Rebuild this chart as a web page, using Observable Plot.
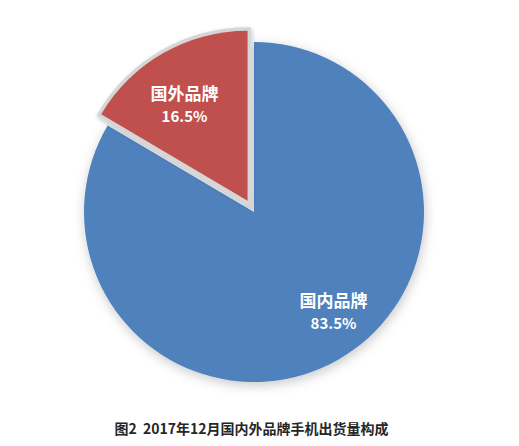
<!DOCTYPE html>
<html>
<head>
<meta charset="utf-8">
<script src="https://cdn.jsdelivr.net/npm/d3@7"></script>
<script src="https://cdn.jsdelivr.net/npm/@observablehq/plot@0.6"></script>
<style>
  html, body { margin: 0; padding: 0; background: #fff; }
  #wrap { width: 519px; }
  #caption {
    width: 519px; height: 36px; line-height: 36px; box-sizing: border-box;
    padding-right: 16px; text-align: center;
    font-family: "Noto Sans CJK SC", sans-serif; font-weight: bold;
    font-size: 14px; color: #262626;
  }
</style>
</head>
<body>
<div id="wrap"></div>
<script>
// ---- data ----
const categories = ["国内品牌", "国外品牌"];
const shares = [83.5, 16.5];
const shareLabels = ["83.5%", "16.5%"];
const sliceColors = ["#4F81BD", "#C0504D"];
const captionText = "图2\u00a0\u00a02017年12月国内外品牌手机出货量构成";

// ---- layout constants (not data) ----
const W = 519, H = 410;
const CX = 254, CY = 212, R = 170;          // pixel centre & radius
const explodeDist = 13 / R;                 // in radius units
const explodeIdx = 1;
const labelLayout = [ {da: -8.6, r: 0.75}, {da: -3.9, r: 0.675} ];

const table = categories.map((c, i) => ({category: c, share: shares[i], label: shareLabels[i], color: sliceColors[i]}));
const arcs = d3.pie().sort(null).value(d => d.share)(table);

// offsets of each slice (units)
arcs.forEach((a, i) => {
  const mid = (a.startAngle + a.endAngle) / 2;
  const e = i === explodeIdx ? explodeDist : 0;
  a.ox = Math.sin(mid) * e;
  a.oy = Math.cos(mid) * e;
  const la = mid + labelLayout[i].da * Math.PI / 180;
  a.lx = a.ox + Math.sin(la) * labelLayout[i].r;
  a.ly = a.oy + Math.cos(la) * labelLayout[i].r;
});

function pieMark(index, scales, values, dims, context) {
  const doc = context.document;
  const ns = "http://www.w3.org/2000/svg";
  const g = doc.createElementNS(ns, "g");
  const defs = doc.createElementNS(ns, "defs");
  defs.innerHTML = `<filter id="sh" x="-20%" y="-20%" width="140%" height="140%">
      <feDropShadow dx="1" dy="3" stdDeviation="6" flood-color="#000" flood-opacity="0.22"/></filter>
    <filter id="sh2" x="-20%" y="-20%" width="140%" height="140%">
      <feDropShadow dx="1" dy="2" stdDeviation="2" flood-color="#000" flood-opacity="0.25"/></filter>`;
  g.appendChild(defs);
  const cx = scales.x(0), cy = scales.y(0);
  const r = scales.x(1) - scales.x(0);
  const arcGen = d3.arc().innerRadius(0).outerRadius(r);
  arcs.forEach((a, i) => {
    const tx = scales.x(a.ox), ty = scales.y(a.oy);
    const d = arcGen(a);
    if (i === explodeIdx) {
      const halo = doc.createElementNS(ns, "path");
      halo.setAttribute("d", d);
      halo.setAttribute("transform", `translate(${tx},${ty})`);
      halo.setAttribute("fill", "#d6d6d6");
      halo.setAttribute("stroke", "#d6d6d6");
      halo.setAttribute("stroke-width", 7);
      halo.setAttribute("stroke-linejoin", "miter");
      halo.setAttribute("filter", "url(#sh2)");
      g.appendChild(halo);
    }
    const p = doc.createElementNS(ns, "path");
    p.setAttribute("d", d);
    p.setAttribute("transform", `translate(${tx},${ty})`);
    p.setAttribute("fill", a.data.color);
    if (i !== explodeIdx) p.setAttribute("filter", "url(#sh)");
    g.appendChild(p);
  });
  return g;
}

const chart = Plot.plot({
  width: W, height: H, margin: 0,
  style: {background: "#fff", overflow: "visible"},
  x: {type: "linear", domain: [-CX / R, (W - CX) / R], range: [0, W], axis: null},
  y: {type: "linear", domain: [-(H - CY) / R, CY / R], range: [H, 0], axis: null},
  marks: [
    pieMark,
    Plot.text(arcs, {x: "lx", y: "ly", text: d => d.data.category, dy: -11.5,
      fill: "white", fontSize: 17, fontWeight: "bold", fontFamily: "Noto Sans CJK SC"}),
    Plot.text(arcs, {x: "lx", y: "ly", text: d => d.data.label, dy: 12,
      fill: "white", fontSize: 15, fontWeight: "bold", fontFamily: "Noto Sans CJK SC"})
  ]
});
document.getElementById("wrap").appendChild(chart);
const cap = document.createElement("div");
cap.id = "caption";
cap.textContent = captionText;
document.getElementById("wrap").appendChild(cap);
</script>
</body>
</html>
